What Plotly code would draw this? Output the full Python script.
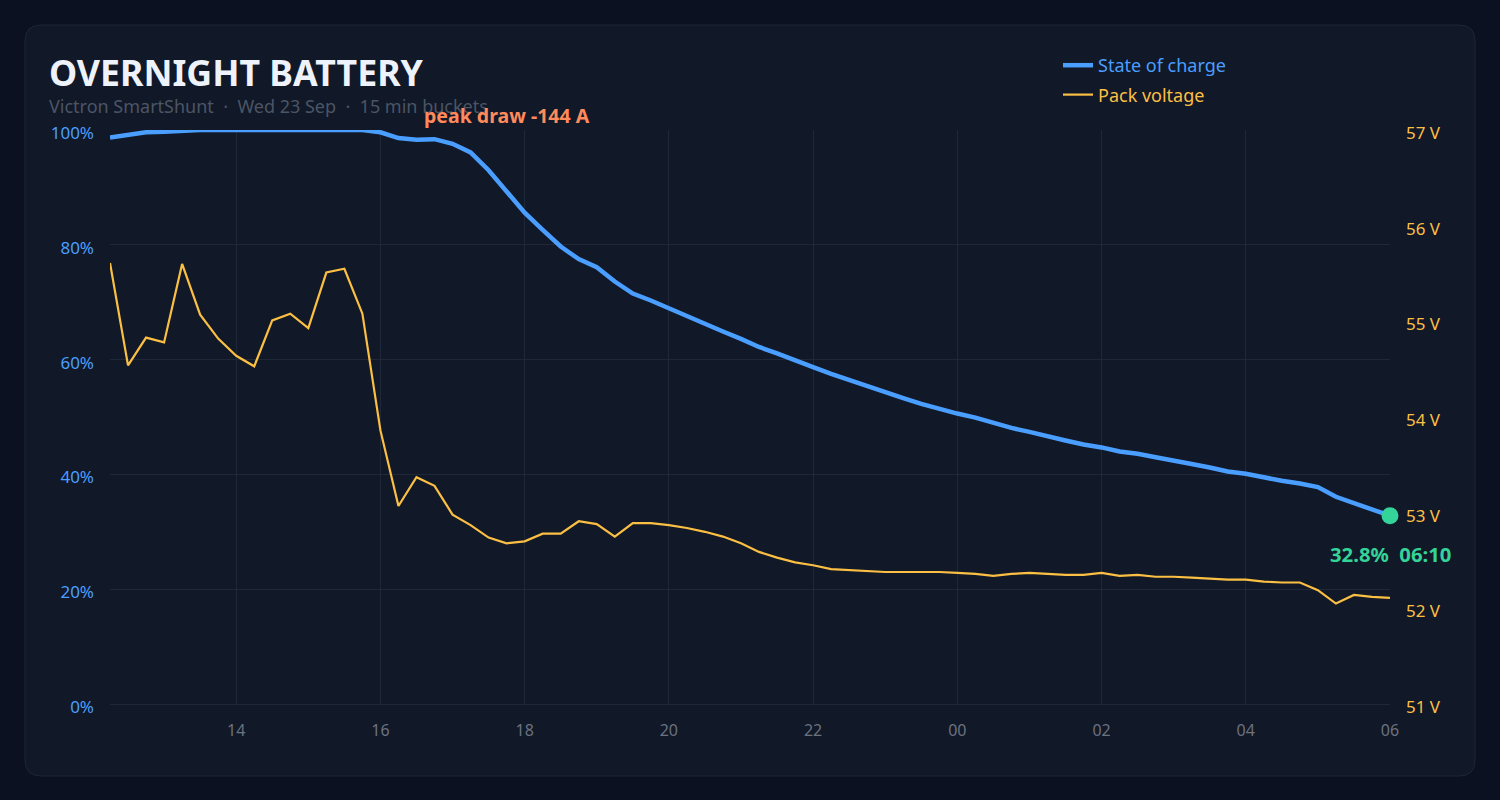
import plotly.graph_objects as go
import pandas as pd

# 15 min buckets, Wed 23 Sep 12:15 -> Thu 24 Sep 06:00
times = pd.date_range('2020-09-23 12:15', periods=72, freq='15min')

soc = [98.7, 99.2, 99.6, 99.7, 99.9, 100, 100, 100, 100, 100,
       100, 100, 100, 100, 100, 99.6, 98.6, 98.3, 98.4, 97.6,
       96.1, 93.0, 89.3, 85.6, 82.6, 79.7, 77.5, 76.1, 73.6, 71.5,
       70.3, 68.9, 67.5, 66.2, 64.9, 63.6, 62.2, 61.1, 59.8, 58.7,
       57.5, 56.4, 55.3, 54.3, 53.3, 52.3, 51.4, 50.6, 49.9, 48.9,
       48.1, 47.4, 46.6, 45.9, 45.2, 44.7, 44.0, 43.6, 43.0, 42.3,
       41.8, 41.2, 40.5, 40.1, 39.4, 38.9, 38.4, 37.8, 36.1, 35.0,
       33.8, 32.8]

voltage = [55.61, 54.54, 54.83, 54.78, 55.60, 55.07, 54.82, 54.64, 54.53, 55.01,
           55.08, 54.93, 55.51, 55.55, 55.08, 53.86, 53.07, 53.37, 53.28, 52.98,
           52.87, 52.74, 52.68, 52.70, 52.78, 52.78, 52.91, 52.88, 52.75, 52.89,
           52.89, 52.87, 52.84, 52.80, 52.75, 52.68, 52.59, 52.53, 52.48, 52.45,
           52.41, 52.40, 52.39, 52.38, 52.38, 52.38, 52.38, 52.37, 52.36, 52.34,
           52.36, 52.37, 52.36, 52.35, 52.35, 52.37, 52.34, 52.35, 52.33, 52.33,
           52.32, 52.31, 52.30, 52.30, 52.28, 52.27, 52.27, 52.19, 52.05, 52.14,
           52.12, 52.11]

peak_idx = 22
peak_label = 'peak draw -144 A'
end_label = '32.8%&nbsp;&nbsp;06:10'

BLUE = '#4a9eff'
AMBER = '#fbbf44'
GREEN = '#34d399'
ORANGE = '#ff8a5b'
GRID = '#1f2838'
CARD = '#111827'
PAGE = '#0b1120'
FONT = 'Noto Sans'

W, H = 1500, 800
L, R, T, B = 110, 110, 130, 96
PW, PH = W - L - R, H - T - B


def px(x):
    return (x - L) / PW


def py(y):
    return (H - B - y) / PH


fig = go.Figure()

fig.add_trace(go.Scatter(
    x=times, y=soc, name=f'<span style="color:{BLUE}">State of charge</span>', mode='lines',
    line=dict(color=BLUE, width=4.5), legendgroup='a'))

fig.add_trace(go.Scatter(
    x=times, y=voltage, name=f'<span style="color:{AMBER}">Pack voltage</span>', mode='lines',
    line=dict(color=AMBER, width=2.2), yaxis='y2', legendgroup='b'))

fig.add_trace(go.Scatter(
    x=[times[-1]], y=[soc[-1]], mode='markers', showlegend=False,
    marker=dict(color=GREEN, size=17), cliponaxis=False))

# rounded card behind the chart
x0, x1, y0, y1, r = 25, 1475, 25, 776, 16
card = (f'M {px(x0 + r)},{py(y0)} L {px(x1 - r)},{py(y0)} '
        f'Q {px(x1)},{py(y0)} {px(x1)},{py(y0 + r)} '
        f'L {px(x1)},{py(y1 - r)} Q {px(x1)},{py(y1)} {px(x1 - r)},{py(y1)} '
        f'L {px(x0 + r)},{py(y1)} Q {px(x0)},{py(y1)} {px(x0)},{py(y1 - r)} '
        f'L {px(x0)},{py(y0 + r)} Q {px(x0)},{py(y0)} {px(x0 + r)},{py(y0)} Z')
fig.add_shape(type='path', path=card, xref='paper', yref='paper',
              fillcolor=CARD, line=dict(color='#1e2636', width=1), layer='below')

fig.add_annotation(text='<b>OVERNIGHT BATTERY</b>', xref='paper', yref='paper',
                   x=px(47), y=py(72), xanchor='left', yanchor='middle', showarrow=False,
                   font=dict(family=FONT, size=35.7, color='#eef2fb'))
fig.add_annotation(text='Victron SmartShunt  ·  Wed 23 Sep  ·  15 min buckets',
                   xref='paper', yref='paper', x=px(47), y=py(106),
                   xanchor='left', yanchor='middle', showarrow=False,
                   font=dict(family=FONT, size=18, color='#4b5565'))
fig.add_annotation(text=f'<b>{peak_label}</b>', x=times[peak_idx], yref='paper', y=py(116),
                   xanchor='center', yanchor='middle', showarrow=False,
                   font=dict(family=FONT, size=19.5, color=ORANGE))
fig.add_annotation(text=f'<b>{end_label}</b>', x=times[-1], y=soc[-1],
                   xanchor='center', yanchor='middle', yshift=-38, showarrow=False,
                   font=dict(family=FONT, size=20.3, color=GREEN))

fig.update_layout(
    width=W, height=H,
    margin=dict(l=L, r=R, t=T, b=B),
    paper_bgcolor=PAGE,
    plot_bgcolor='rgba(0,0,0,0)',
    font=dict(family=FONT, size=17, color='#6b7280'),
    showlegend=True,
    legend=dict(x=px(1058), y=py(47), xanchor='left', yanchor='top',
                bgcolor='rgba(0,0,0,0)', font=dict(family=FONT, size=18),
                tracegroupgap=3, itemwidth=30),
    xaxis=dict(range=[times[0], times[-1]], tick0='2020-09-23 00:00', dtick=7200000,
               tickformat='%H', showgrid=True, gridcolor=GRID, zeroline=False,
               showline=True, linecolor=GRID, ticks='', ticklabelstandoff=12,
               tickfont=dict(color='#6b7280', size=16)),
    yaxis=dict(range=[0, 100], dtick=20, ticksuffix='%', showgrid=True, gridcolor=GRID,
               zeroline=False, ticks='', ticklabelstandoff=15, ticklabelshift=3,
               tickfont=dict(color=BLUE, size=17)),
    yaxis2=dict(range=[51, 57], dtick=1, ticksuffix=' V', overlaying='y', side='right',
                showgrid=False, zeroline=False, ticks='', ticklabelstandoff=15,
                ticklabelshift=3, tickfont=dict(color=AMBER, size=17)),
)

fig.write_html('out.html', config={'displayModeBar': False},
               post_script="document.body.style.margin='0';")
